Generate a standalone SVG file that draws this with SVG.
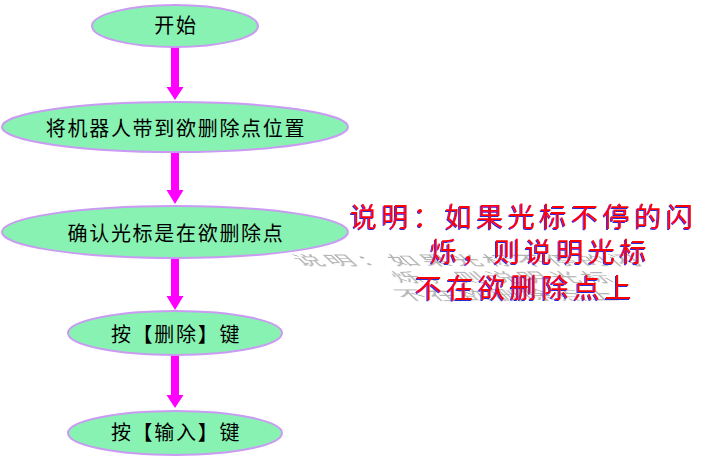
<svg xmlns="http://www.w3.org/2000/svg" width="702" height="457" viewBox="0 0 702 457">
<defs>
<style>
.node ellipse{fill:#88F2B2;stroke:#C99BF2;stroke-width:2}
.node text{font-family:"Noto Sans CJK SC","Liberation Sans",sans-serif;font-size:20px;fill:#000;text-anchor:middle;letter-spacing:1.7px}
.arrow{fill:#FF00FF}
.note{font-family:"Noto Sans CJK SC","Liberation Sans",sans-serif;font-size:27px;letter-spacing:4.6px}
.note-red{fill:#FF0000}
.note-shadow{fill:#B2B2B2}
</style>
<filter id="blur" x="-10%" y="-30%" width="120%" height="160%"><feGaussianBlur stdDeviation="0.5"/></filter>
<filter id="blueshadow" x="-5%" y="-10%" width="110%" height="120%">
<feFlood flood-color="#2A2AD8" result="c"/>
<feComposite in="c" in2="SourceAlpha" operator="in" result="s"/>
<feOffset in="s" dx="-1.5" dy="1" result="o"/>
<feMerge><feMergeNode in="o"/><feMergeNode in="SourceGraphic"/></feMerge>
</filter>
</defs>
<rect width="702" height="457" fill="#FFFFFF"/>
<g id="connectors">
<polygon class="arrow" points="171,47 179,47 179,87 183.5,87 175,100 166.5,87 171,87"/>
<polygon class="arrow" points="171,152 179,152 179,190 183.5,190 175,204 166.5,190 171,190"/>
<polygon class="arrow" points="171,258 179,258 179,296 183.5,296 175,310 166.5,296 171,296"/>
<polygon class="arrow" points="171,355 179,355 179,395 183.5,395 175,408 166.5,395 171,395"/>
</g>
<g id="n1" class="node"><ellipse cx="175" cy="26" rx="83" ry="21"/><text x="176" y="33">开始</text></g>
<g id="n2" class="node"><ellipse cx="175" cy="127" rx="173" ry="25"/><text x="176" y="136">将机器人带到欲删除点位置</text></g>
<g id="n3" class="node"><ellipse cx="175" cy="232" rx="173" ry="26"/><text x="176" y="241">确认光标是在欲删除点</text></g>
<g id="n4" class="node"><ellipse cx="175" cy="333" rx="107" ry="22"/><text x="176" y="342">按【删除】键</text></g>
<g id="n5" class="node"><ellipse cx="175" cy="433" rx="107" ry="22"/><text x="176" y="440">按【输入】键</text></g>
<g id="note">
<g class="note note-shadow" filter="url(#blur)" transform="matrix(1 0 0.53 0.49 -170 154)">
<text x="350" y="227">说明：如果光标不停的闪</text>
<text x="430" y="262">烁，则说明光标</text>
<text x="415" y="298">不在欲删除点上</text>
</g>
<g class="note note-red" filter="url(#blueshadow)">
<text x="350" y="227">说明：如果光标不停的闪</text>
<text x="430" y="262">烁，则说明光标</text>
<text x="415" y="298">不在欲删除点上</text>
</g>
</g>
</svg>
